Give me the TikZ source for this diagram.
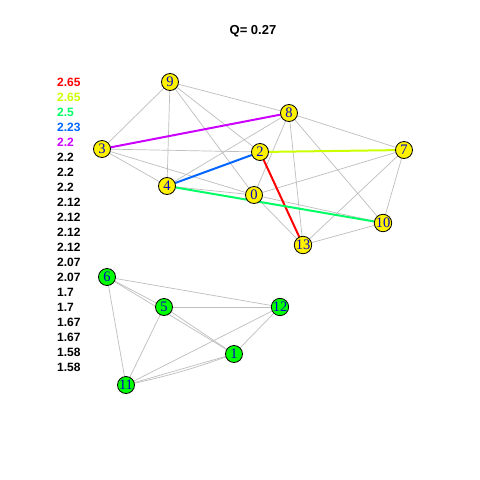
\documentclass[tikz,border=0pt]{standalone}
\usepackage{fontspec}
\setmainfont{Liberation Sans}
\newfontfamily\serifnum{Liberation Serif}
\definecolor{rbA}{HTML}{FF0000}
\definecolor{rbB}{HTML}{CCFF00}
\definecolor{rbC}{HTML}{00FF66}
\definecolor{rbD}{HTML}{0066FF}
\definecolor{rbE}{HTML}{CC00FF}
\definecolor{edgegray}{HTML}{BEBEBE}
\definecolor{labblue}{HTML}{0000C8}
\begin{document}
\begin{tikzpicture}[x=1pt,y=-1pt,
  vtx/.style={circle,draw=black,line width=0.8pt,minimum size=17pt,inner sep=0pt,
    font=\serifnum\fontsize{14.5}{14.5}\selectfont,text=labblue},
  ytx/.style={vtx,fill=yellow},
  gtx/.style={vtx,fill=green},
  ge/.style={draw=edgegray,line width=0.7pt},
  ce/.style={line width=2pt},
  leg/.style={anchor=west,inner sep=0pt,font=\bfseries\fontsize{12}{12}\selectfont}]
\useasboundingbox (0,0) rectangle (480,480);
\fill[white] (0,0) rectangle (480,480);
\node[font=\bfseries\fontsize{13}{13}\selectfont] (title) at (253,31) {Q= 0.27};
% coordinates
\coordinate (p9) at (170,82);
\coordinate (p8) at (289,113);
\coordinate (p3) at (102,149);
\coordinate (p2) at (260,152);
\coordinate (p7) at (404,150);
\coordinate (p4) at (167,186);
\coordinate (p0) at (254,195);
\coordinate (p10) at (383,223);
\coordinate (p13) at (303,245);
\coordinate (p6) at (107,277);
\coordinate (p5) at (164,307);
\coordinate (p12) at (280,307);
\coordinate (p1) at (234,354);
\coordinate (p11) at (126,385);
\foreach \a/\b in {p9/p3,p9/p4,p9/p8,p9/p2,p9/p0,
  p3/p2,p3/p0,p3/p4,p8/p4,p8/p0,p8/p13,p8/p10,p8/p7,
  p7/p0,p7/p13,p7/p10,p0/p13,p0/p10,p0/p4,p10/p13,
  p6/p5,p6/p1,p6/p12,p6/p11,p5/p12,p5/p1,p5/p11,p12/p1,p12/p11,p1/p11}
  \draw[ge] (\a) -- (\b);
\draw[ge] (p11) to[bend right=4] (p1);
\draw[ce,rbA] (p2) -- (p13);
\draw[ce,rbB] (p2) -- (p7);
\draw[ce,rbC] (p4) -- (p10);
\draw[ce,rbD] (p4) -- (p2);
\draw[ce,rbE] (p3) -- (p8);
\node[ytx] (n9) at (p9) {9};
\node[ytx] (n8) at (p8) {8};
\node[ytx] (n3) at (p3) {3};
\node[ytx] (n2) at (p2) {2};
\node[ytx] (n7) at (p7) {7};
\node[ytx] (n4) at (p4) {4};
\node[ytx] (n0) at (p0) {0};
\node[ytx] (n10) at (p10) {10};
\node[ytx] (n13) at (p13) {13};
\node[gtx] (n6) at (p6) {6};
\node[gtx] (n5) at (p5) {5};
\node[gtx] (n12) at (p12) {12};
\node[gtx] (n1) at (p1) {1};
\node[gtx] (n11) at (p11) {11};
% legend
\node[leg,text=rbA] (l1) at (57,82) {2.65};
\node[leg,text=rbB] (l2) at (57,97) {2.65};
\node[leg,text=rbC] (l3) at (57,112) {2.5};
\node[leg,text=rbD] (l4) at (57,127) {2.23};
\node[leg,text=rbE] (l5) at (57,142) {2.2};
\node[leg] (l6) at (57,157) {2.2};
\node[leg] (l7) at (57,172) {2.2};
\node[leg] (l8) at (57,187) {2.2};
\node[leg] (l9) at (57,202) {2.12};
\node[leg] (l10) at (57,217) {2.12};
\node[leg] (l11) at (57,232) {2.12};
\node[leg] (l12) at (57,247) {2.12};
\node[leg] (l13) at (57,262) {2.07};
\node[leg] (l14) at (57,277) {2.07};
\node[leg] (l15) at (57,292) {1.7};
\node[leg] (l16) at (57,307) {1.7};
\node[leg] (l17) at (57,322) {1.67};
\node[leg] (l18) at (57,337) {1.67};
\node[leg] (l19) at (57,352) {1.58};
\node[leg] (l20) at (57,367) {1.58};
\end{tikzpicture}
\end{document}
